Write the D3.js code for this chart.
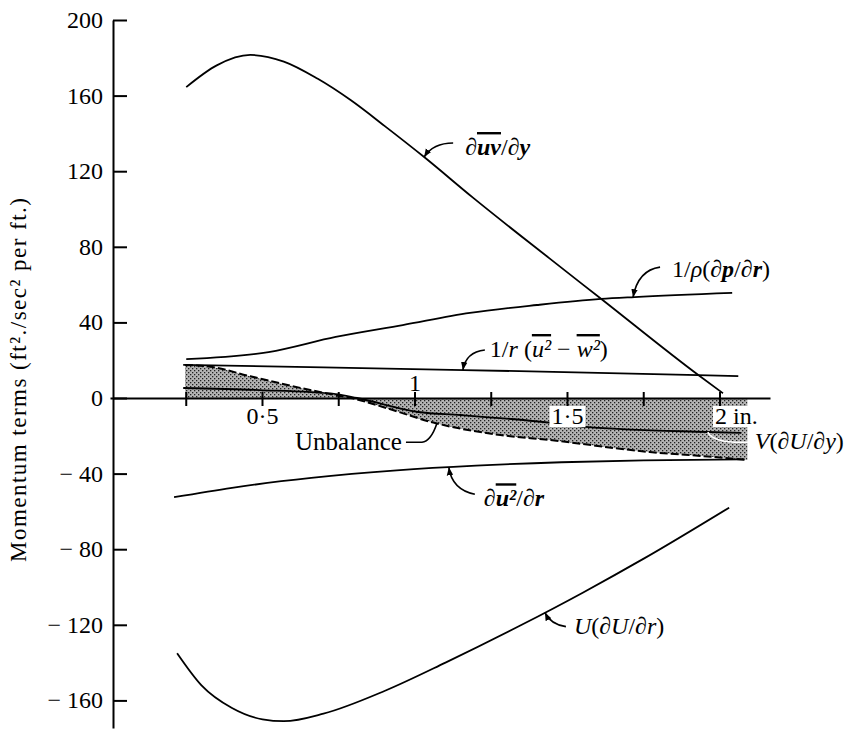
<!DOCTYPE html>
<html>
<head>
<meta charset="utf-8">
<script src="https://cdn.jsdelivr.net/npm/d3@7"></script>
<style>
body { margin: 0; background: #fff; }
</style>
</head>
<body>
<script>
// radial distance (in.) and momentum term value (ft2/sec2 per ft) for each curve
var uvR = [0.25, 0.35, 0.46, 0.57, 0.68, 0.79, 0.90, 1.03, 1.19, 1.44, 1.61, 1.93, 2.01];
var uvVal = [164.5, 176, 181.5, 178, 169, 157.5, 144, 127.5, 106, 74, 52.5, 12, 2.5];

var dpR = [0.25, 0.52, 0.74, 0.96, 1.18, 1.40, 1.61, 1.72, 2.04];
var dpVal = [20.6, 24.3, 32.3, 38.6, 45.0, 49.2, 52.4, 53.4, 55.6];

var uwR = [0.24, 0.70, 1.16, 1.60, 2.06];
var uwVal = [17.5, 16.2, 14.8, 13.3, 11.6];

var vdR = [0.24, 0.49, 0.74, 0.81, 1.01, 1.15, 1.45, 1.56, 1.96, 2.07];
var vdVal = [5.3, 4.2, 2.1, 0, -7.4, -9.0, -13.2, -15.3, -18.0, -18.5];

var unbR = [0.246, 0.33, 0.46, 0.62, 0.74, 0.79, 0.90, 1.06, 1.28, 1.44, 1.77, 1.98, 2.09];
var unbVal = [17.5, 16.5, 11.5, 5.5, 1.5, 0, -5, -13, -19.6, -22.2, -28.6, -31.2, -32.8];

var du2R = [0.21, 0.40, 0.66, 0.94, 1.20, 1.48, 1.75, 2.08];
var du2Val = [-52.5, -47.5, -42.3, -38.3, -35.8, -34, -33, -32.5];

var uuR = [0.22, 0.30, 0.40, 0.50, 0.57, 0.70, 0.90, 1.10, 1.35, 1.55, 1.75, 2.03];
var uuVal = [-135, -152, -164, -170, -171, -167, -155, -140, -120, -103, -85, -58];

var yTicks = [200, 160, 120, 80, 40, 0, -40, -80, -120, -160];
var xTicks = [0.25, 0.5, 0.75, 1, 1.25, 1.5, 1.75, 2];
var xLabelVals = [0.5, 1, 1.5, 2];
var xLabelText = ["0·5", "1", "1·5", "2 in."];

function pts(rs, vs) {
  return rs.map(function(r, i) { return [r, vs[i]]; });
}
function valAt(rs, vs, r) {
  var i = Math.max(1, Math.min(rs.length - 1, d3.bisectLeft(rs, r)));
  var t = (r - rs[i - 1]) / (rs[i] - rs[i - 1]);
  return vs[i - 1] + t * (vs[i] - vs[i - 1]);
}

var width = 853, height = 730;
var serif = "'Liberation Serif', 'Times New Roman', Tinos, serif";

var x = d3.scaleLinear().domain([0, 2.164]).range([110, 770]);
var y = d3.scaleLinear().domain([200, -174.6]).range([20, 728]);

var svg = d3.select("body").append("svg")
  .attr("width", width)
  .attr("height", height)
  .style("font-family", serif);

var defs = svg.append("defs");
var pat = defs.append("pattern")
  .attr("id", "dots")
  .attr("width", 4).attr("height", 4)
  .attr("patternUnits", "userSpaceOnUse");
pat.append("rect").attr("width", 4).attr("height", 4).attr("fill", "#b4b4b4");
[[0, 0], [2, 2]].forEach(function(p) {
  pat.append("rect").attr("x", p[0]).attr("y", p[1])
    .attr("width", 1.3).attr("height", 1.3).attr("fill", "#222");
});

defs.append("marker")
  .attr("id", "arr")
  .attr("viewBox", "0 0 10 10")
  .attr("refX", 10).attr("refY", 5)
  .attr("markerWidth", 8).attr("markerHeight", 8)
  .attr("markerUnits", "userSpaceOnUse")
  .attr("orient", "auto-start-reverse")
  .append("path")
  .attr("d", "M0,1L10,5L0,9Z")
  .attr("fill", "#000");

var line = d3.line()
  .x(function(d) { return x(d[0]); })
  .y(function(d) { return y(d[1]); })
  .curve(d3.curveMonotoneX);

// shaded unbalance area
var area = d3.area()
  .x(function(d) { return x(d[0]); })
  .y0(y(0))
  .y1(function(d) { return y(d[1]); })
  .curve(d3.curveMonotoneX);

svg.append("path")
  .datum(pts(unbR, unbVal))
  .attr("d", area)
  .attr("fill", "url(#dots)");

var solid = [pts(uvR, uvVal), pts(dpR, dpVal), pts(uwR, uwVal),
  pts(vdR, vdVal), pts(du2R, du2Val), pts(uuR, uuVal)];

svg.selectAll(".curve")
  .data(solid)
  .enter().append("path")
  .attr("class", "curve")
  .attr("d", line)
  .attr("fill", "none")
  .attr("stroke", "#000")
  .attr("stroke-width", 1.8);

svg.append("path")
  .datum(pts(unbR, unbVal))
  .attr("d", line)
  .attr("fill", "none")
  .attr("stroke", "#000")
  .attr("stroke-width", 2)
  .attr("stroke-dasharray", "8,3");

// axes
svg.append("g")
  .attr("transform", "translate(113,0)")
  .call(d3.axisRight(y).tickValues(yTicks).tickSize(14).tickSizeOuter(0).tickFormat(""))
  .call(function(g) { g.selectAll("path,line").attr("stroke-width", 2); });

svg.selectAll(".ylab")
  .data(yTicks)
  .enter().append("text")
  .attr("class", "ylab")
  .attr("x", 103)
  .attr("y", function(d) { return y(d) + 8; })
  .attr("text-anchor", "end")
  .attr("font-size", 24)
  .text(function(d) { return d < 0 ? "\u2212 " + (-d) : d; });

svg.append("g")
  .attr("transform", "translate(0," + y(0) + ")")
  .call(d3.axisBottom(x).tickValues([]).tickSizeOuter(0))
  .call(function(g) { g.select("path").attr("stroke-width", 2); });

svg.selectAll(".xtick")
  .data(xTicks)
  .enter().append("line")
  .attr("class", "xtick")
  .attr("x1", function(d) { return x(d); })
  .attr("x2", function(d) { return x(d); })
  .attr("y1", y(0) - 6)
  .attr("y2", y(0) + 8)
  .attr("stroke", "#000")
  .attr("stroke-width", 2);

var xl = svg.selectAll(".xlab")
  .data(xLabelVals)
  .enter().append("g")
  .attr("class", "xlab");
xl.append("text")
  .attr("x", function(d, i) { return i == 3 ? x(d) - 5 : x(d); })
  .attr("y", function(d, i) { return i == 1 ? y(0) - 7 : y(0) + 26; })
  .attr("text-anchor", function(d, i) { return i == 3 ? "start" : "middle"; })
  .attr("font-size", 24)
  .style("font-family", serif)
  .text(function(d, i) { return xLabelText[i]; });
xl.each(function(d, i) {
  if (i < 2) return;
  var g = d3.select(this), b = g.select("text").node().getBBox();
  g.insert("rect", "text")
    .attr("x", b.x - 2).attr("y", b.y + 3)
    .attr("width", b.width + 4).attr("height", b.height - 5)
    .attr("fill", "#fff");
});

// y axis title
svg.append("text")
  .attr("transform", "translate(26,380) rotate(-90)")
  .attr("text-anchor", "middle")
  .attr("font-size", 23)
  .attr("textLength", 364)
  .attr("lengthAdjust", "spacing")
  .text("Momentum terms (ft\u00b2./sec\u00b2 per ft.)");

// annotations: leader from a point on a curve to its label
function tip(rs, vs, r) { return [x(r), y(valAt(rs, vs, r))]; }

function leader(p, c, e, arrow, color) {
  var path = svg.append("path")
    .attr("d", "M" + p[0] + "," + p[1] + "Q" + (p[0] + c[0]) + "," + (p[1] + c[1]) +
      " " + (p[0] + e[0]) + "," + (p[1] + e[1]))
    .attr("fill", "none")
    .attr("stroke", color || "#000")
    .attr("stroke-width", 1.6);
  if (arrow) path.attr("marker-start", "url(#arr)");
}

function label(px, py, parts, size) {
  var t = svg.append("text").attr("x", px).attr("y", py).attr("font-size", size || 24);
  parts.forEach(function(p) {
    var s = t.append("tspan").text(p[0]);
    if (p[1] && p[1].indexOf("i") >= 0) s.attr("font-style", "italic");
    if (p[1] && p[1].indexOf("b") >= 0) s.attr("font-weight", "bold");
    if (p[1] && p[1].indexOf("o") >= 0) s.style("text-decoration", "overline");
  });
}

var p;
p = tip(uvR, uvVal, 1.03);
leader(p, [9, -14], [29, -14], true);
label(p[0] + 41, p[1] - 2, [["\u2202"], ["uv", "ibo"], ["/\u2202"], ["y", "ib"]]);

p = tip(dpR, dpVal, 1.715);
leader(p, [5, -27], [27, -30], true);
label(p[0] + 39, p[1] - 20, [["1/"], ["\u03c1", "i"], ["(\u2202"], ["p", "ib"], ["/\u2202"], ["r", "ib"], [")"]]);

p = tip(uwR, uwVal, 1.157);
leader(p, [3, -18], [22, -20], true);
label(p[0] + 27, p[1] - 13, [["1/"], ["r", "i"], [" ("], ["u\u00b2", "io"], [" \u2212 "], ["w\u00b2", "io"], [")"]]);

p = tip(unbR, unbVal, 1.072);
svg.append("path")
  .attr("d", "M" + p[0] + "," + p[1] + "Q" + (p[0] - 6) + "," + (p[1] + 18) + " " + (p[0] - 15) +
    "," + (p[1] + 19) + "L" + (p[0] - 31) + "," + (p[1] + 19))
  .attr("fill", "none").attr("stroke", "#000").attr("stroke-width", 1.6);
svg.append("text")
  .attr("x", p[0] - 35).attr("y", p[1] + 27)
  .attr("text-anchor", "end")
  .attr("font-size", 25)
  .text("Unbalance");

p = tip(du2R, du2Val, 1.111);
leader(p, [3, 22], [26, 27], true);
label(p[0] + 35, p[1] + 39, [["\u2202"], ["u\u00b2", "ibo"], ["/\u2202"], ["r", "ib"]]);

p = tip(uuR, uuVal, 1.426);
leader(p, [6, 12], [21, 14], true);
label(p[0] + 29, p[1] + 21, [["U", "i"], ["(\u2202"], ["U", "i"], ["/\u2202"], ["r", "i"], [")"]]);

p = tip(vdR, vdVal, 1.96);
leader(p, [6, 12], [44, 10], false, "#fff");
label(p[0] + 47, p[1] + 17, [["V", "i"], ["(\u2202"], ["U", "i"], ["/\u2202"], ["y", "i"], [")"]]);

// make sure every label uses the serif face
svg.selectAll("text").style("font-family", serif);
</script>
</body>
</html>
